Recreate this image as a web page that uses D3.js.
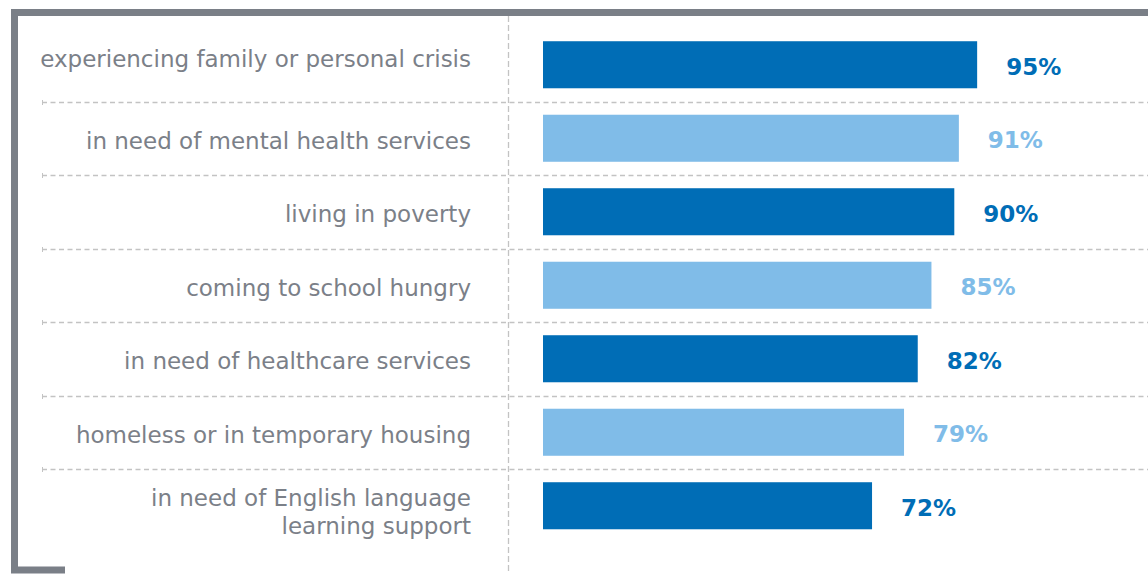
<!DOCTYPE html>
<html>
<head>
<meta charset="utf-8">
<script src="https://cdn.jsdelivr.net/npm/d3@7"></script>
<style>
  html, body { margin: 0; padding: 0; background: #fff; }
  svg { display: block; }
</style>
</head>
<body>
<svg id="chart" width="1148" height="574"></svg>
<script>
const categories = [
  ["experiencing family or personal crisis"],
  ["in need of mental health services"],
  ["living in poverty"],
  ["coming to school hungry"],
  ["in need of healthcare services"],
  ["homeless or in temporary housing"],
  ["in need of English language", "learning support"]
];
const values = [95, 91, 90, 85, 82, 79, 72];
const shades = ["dark", "light", "dark", "light", "dark", "light", "dark"];
const xDomain = [0, 100];

const colorMap = { dark: "#006db6", light: "#80bce8" };
const frameColor = "#7a7f87";
const textColor = "#7b8088";
const dashColor = "#c3c3c3";

const svg = d3.select("#chart");
const W = 1148, H = 574;

const keys = categories.map((c, i) => i);
const x = d3.scaleLinear().domain(xDomain).range([543, 1000]);
const y = d3.scaleBand().domain(keys).range([28, 542.5]).paddingInner(0.36).paddingOuter(0.18);
const step = y.step();

// frame bracket
svg.append("path")
  .attr("d", `M${W},12.5 H14.5 V570 H65`)
  .attr("fill", "none")
  .attr("stroke", frameColor)
  .attr("stroke-width", 7);

// vertical dashed divider
svg.append("line")
  .attr("x1", 508.5).attr("x2", 508.5)
  .attr("y1", 16).attr("y2", H)
  .attr("stroke", dashColor).attr("stroke-width", 1.3)
  .attr("stroke-dasharray", "6,3");

// horizontal separators
const seps = keys.slice(1).map(k => y(k) - step * y.paddingInner() / 2);
svg.selectAll("line.sep").data(seps).join("line")
  .attr("class", "sep")
  .attr("x1", 42).attr("x2", W)
  .attr("y1", d => Math.round(d) + 0.5).attr("y2", d => Math.round(d) + 0.5)
  .attr("stroke", dashColor).attr("stroke-width", 1.3)
  .attr("stroke-dasharray", "5,3.5");
svg.selectAll("line.septick").data(seps).join("line")
  .attr("class", "septick")
  .attr("x1", 42.5).attr("x2", 42.5)
  .attr("y1", d => Math.round(d) - 2).attr("y2", d => Math.round(d) + 3)
  .attr("stroke", dashColor).attr("stroke-width", 1);

// bars
svg.selectAll("rect.bar").data(keys).join("rect")
  .attr("class", "bar")
  .attr("x", x(0))
  .attr("y", k => y(k))
  .attr("width", k => x(values[k]) - x(0))
  .attr("height", y.bandwidth())
  .attr("fill", k => colorMap[shades[k]]);

// value labels
svg.selectAll("text.val").data(keys).join("text")
  .attr("class", "val")
  .attr("x", k => x(values[k]) + 29)
  .attr("y", k => y(k) + y.bandwidth() / 2 + 10)
  .attr("font-family", "DejaVu Sans")
  .attr("font-weight", "bold")
  .attr("font-size", 23)
  .attr("fill", k => colorMap[shades[k]])
  .text(k => values[k] + "%");

// category labels
const lab = svg.selectAll("text.cat").data(keys).join("text")
  .attr("class", "cat")
  .attr("text-anchor", "end")
  .attr("font-family", "DejaVu Sans")
  .attr("font-weight", 400)
  .attr("font-size", 23)
  .attr("fill", textColor);
lab.each(function(k) {
  const lines = categories[k];
  const n = lines.length;
  const cy = y(k) + y.bandwidth() / 2;
  const lh = 28;
  const nudge = k === 0 ? -8 : 0; // top row label sits higher in the reference
  const t = d3.select(this);
  lines.forEach((ln, i) => {
    t.append("tspan")
      .attr("x", 471)
      .attr("y", cy + 10.5 + (i - (n - 1) / 2) * lh + (n - 1) * 4 + nudge)
      .text(ln);
  });
});
</script>
</body>
</html>
